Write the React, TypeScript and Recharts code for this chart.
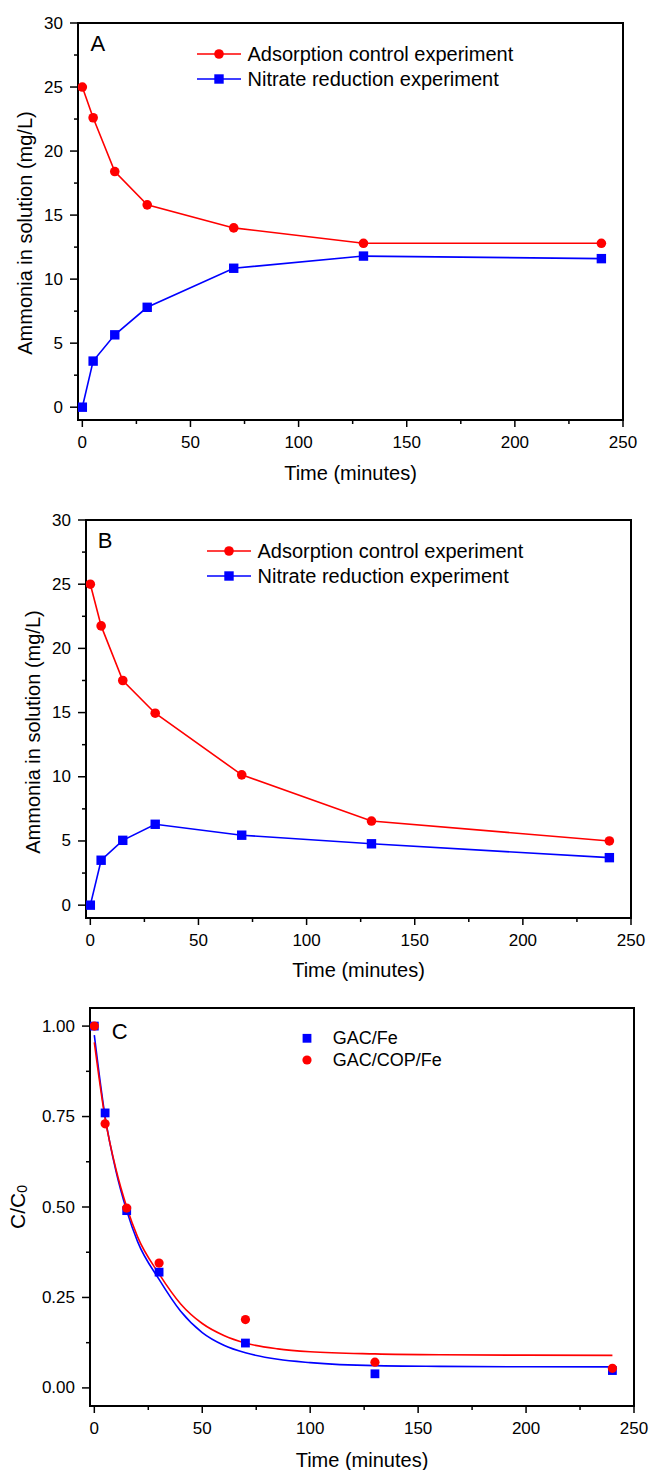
import React from 'react';
import { ComposedChart, Line, Scatter, XAxis, YAxis, ReferenceArea, Legend } from 'recharts';

// ---- data ----
const times = [0, 5, 15, 30, 70, 130, 240];

const adsorptionA = [25, 22.6, 18.4, 15.8, 14.0, 12.8, 12.8];
const nitrateA = [0, 3.6, 5.65, 7.8, 10.85, 11.8, 11.6];

const adsorptionB = [25, 21.75, 17.5, 14.95, 10.15, 6.55, 5.0];
const nitrateB = [0, 3.5, 5.05, 6.3, 5.45, 4.78, 3.7];

const gacFe = [1.0, 0.76, 0.49, 0.32, 0.124, 0.039, 0.048];
const gacCopFe = [1.0, 0.73, 0.497, 0.345, 0.189, 0.071, 0.054];

const fitTimes = [0, 5, 10, 15, 20, 30, 40, 50, 60, 70, 85, 100, 130, 160, 200, 240];
const gacFeFit = [0.975, 0.75, 0.6, 0.49, 0.405, 0.3, 0.212, 0.153, 0.118, 0.097, 0.079, 0.07, 0.0615, 0.0595, 0.0585, 0.058];
const gacCopFeFit = [0.955, 0.745, 0.605, 0.5, 0.418, 0.315, 0.232, 0.178, 0.145, 0.124, 0.108, 0.1, 0.094, 0.0915, 0.0905, 0.09];

const xTicks = [0, 25, 50, 75, 100, 125, 150, 175, 200, 225, 250];
const yTicksAB = [0, 2.5, 5, 7.5, 10, 12.5, 15, 17.5, 20, 22.5, 25, 27.5, 30];
const yTicksC = [0, 0.125, 0.25, 0.375, 0.5, 0.625, 0.75, 0.875, 1.0];

const seriesNamesAB = ['Adsorption control experiment', 'Nitrate reduction experiment'];
const seriesNamesC = ['GAC/Fe', 'GAC/COP/Fe'];

const RED = '#ff0000';
const BLUE = '#0000ff';
const FONT = '"Liberation Sans", Arial, Helvetica, sans-serif';

const dataA = times.map((t, i) => ({ t, adsorption: adsorptionA[i], nitrate: nitrateA[i] }));
const dataB = times.map((t, i) => ({ t, adsorption: adsorptionB[i], nitrate: nitrateB[i] }));
const scatterFe = times.map((t, i) => ({ t, gacFe: gacFe[i] }));
const scatterCop = times.map((t, i) => ({ t, gacCopFe: gacCopFe[i] }));
const fitFe = fitTimes.map((t, i) => ({ t, gacFeFit: gacFeFit[i] }));
const fitCop = fitTimes.map((t, i) => ({ t, gacCopFeFit: gacCopFeFit[i] }));

// ---- ticks ----
const XTick = (props: any) => {
  const { x, y, payload } = props;
  const v = payload.value;
  const major = v % 50 === 0;
  return (
    <g>
      <line x1={x} x2={x} y1={y} y2={y + (major ? 7 : 4)} stroke="#000" strokeWidth={1.5} />
      {major && (
        <text x={x} y={y + 22.5} textAnchor="middle" dominantBaseline="central" fontSize={17} fontFamily={FONT} fill="#000">
          {v}
        </text>
      )}
    </g>
  );
};

const makeYTick = (isMajor: (v: number) => boolean, fmt: (v: number) => string) => (props: any) => {
  const { x, y, payload } = props;
  const v = payload.value;
  const major = isMajor(v);
  return (
    <g>
      <line x1={x} x2={x - (major ? 8 : 4)} y1={y} y2={y} stroke="#000" strokeWidth={1.5} />
      {major && (
        <text x={x - 15} y={y} textAnchor="end" dominantBaseline="central" fontSize={17} fontFamily={FONT} fill="#000">
          {fmt(v)}
        </text>
      )}
    </g>
  );
};

const YTickAB = makeYTick((v) => v % 5 === 0, (v) => String(v));
const YTickC = makeYTick((v) => Math.abs(v * 4 - Math.round(v * 4)) < 1e-6, (v) => v.toFixed(2));

// ---- markers ----
const redDot = (p: any) => <circle key={`r${p.index}`} cx={p.cx} cy={p.cy} r={4.8} fill={RED} />;
const blueSq = (p: any) => (
  <rect key={`b${p.index}`} x={p.cx - 4.7} y={p.cy - 4.7} width={9.4} height={9.4} fill={BLUE} />
);
const redDotC = (p: any) => <circle cx={p.cx} cy={p.cy} r={4.6} fill={RED} />;
const blueSqC = (p: any) => <rect x={p.cx - 4.4} y={p.cy - 4.4} width={8.8} height={8.8} fill={BLUE} />;

// ---- legends ----
const LegendAB = () => (
  <svg width={440} height={60} style={{ overflow: 'visible' }}>
    <line x1={7} x2={51} y1={16} y2={16} stroke={RED} strokeWidth={1.6} />
    <circle cx={29} cy={16} r={4.8} fill={RED} />
    <text x={57.5} y={16} dominantBaseline="central" fontSize={20} fontFamily={FONT} fill="#000">
      {seriesNamesAB[0]}
    </text>
    <line x1={7} x2={51} y1={41} y2={41} stroke={BLUE} strokeWidth={1.6} />
    <rect x={29 - 4.7} y={41 - 4.7} width={9.4} height={9.4} fill={BLUE} />
    <text x={57.5} y={41} dominantBaseline="central" fontSize={20} fontFamily={FONT} fill="#000">
      {seriesNamesAB[1]}
    </text>
  </svg>
);

const LegendC = () => (
  <svg width={200} height={60} style={{ overflow: 'visible' }}>
    <rect x={12 - 4.4} y={13.3 - 4.4} width={8.8} height={8.8} fill={BLUE} />
    <text x={37.8} y={13.3} dominantBaseline="central" fontSize={18} fontFamily={FONT} fill="#000">
      {seriesNamesC[0]}
    </text>
    <circle cx={12} cy={35} r={4.6} fill={RED} />
    <text x={37.8} y={35} dominantBaseline="central" fontSize={18} fontFamily={FONT} fill="#000">
      {seriesNamesC[1]}
    </text>
  </svg>
);

const commonX = {
  type: 'number' as const,
  dataKey: 't',
  domain: [-2, 250] as [number, number],
  ticks: xTicks,
  interval: 0 as const,
  tickSize: 0,
  tickMargin: 0,
  tickLine: false,
  axisLine: false,
  allowDataOverflow: true,
  tick: XTick,
};

const PanelAB = ({ data, yW, mTop, mRight, xH, legendPos }: any) => (
  <ComposedChart width={649} height={490} data={data} margin={{ top: mTop, right: mRight, left: 0, bottom: 0 }}>
    <XAxis {...commonX} height={xH} />
    <YAxis
      type="number"
      domain={[-1, 30]}
      ticks={yTicksAB}
      interval={0}
      tickSize={0}
      tickMargin={0}
      tickLine={false}
      axisLine={false}
      allowDataOverflow
      width={yW}
      tick={YTickAB}
    />
    <ReferenceArea x1={-2} x2={250} y1={-1} y2={30} fill="none" stroke="#000" strokeWidth={2} ifOverflow="visible" />
    <Line
      type="linear"
      dataKey="adsorption"
      name={seriesNamesAB[0]}
      stroke={RED}
      strokeWidth={1.6}
      dot={redDot}
      activeDot={false}
      isAnimationActive={false}
    />
    <Line
      type="linear"
      dataKey="nitrate"
      name={seriesNamesAB[1]}
      stroke={BLUE}
      strokeWidth={1.6}
      dot={blueSq}
      activeDot={false}
      isAnimationActive={false}
    />
    <Legend
      layout="vertical"
      align="center"
      verticalAlign="middle"
      wrapperStyle={{ left: legendPos[0], top: legendPos[1], width: 440, height: 60 }}
      content={() => <LegendAB />}
    />
  </ComposedChart>
);

export default function App() {
  return (
    <div style={{ position: 'absolute', left: 0, top: 0, width: 649, height: 1470, background: '#fff' }}>
      <div style={{ position: 'absolute', left: 0, top: 0 }}>
        <PanelAB data={dataA} yW={78} mTop={23} mRight={26} xH={70} legendPos={[190, 38]} />
      </div>
      <div style={{ position: 'absolute', left: 0, top: 490 }}>
        <PanelAB data={dataB} yW={86} mTop={30} mRight={18} xH={62} legendPos={[200, 45]} />
      </div>
      <div style={{ position: 'absolute', left: 0, top: 980 }}>
        <ComposedChart width={649} height={490} margin={{ top: 28, right: 15, left: 0, bottom: 0 }}>
          <XAxis {...commonX} height={64} />
          <YAxis
            type="number"
            domain={[-0.05, 1.05]}
            ticks={yTicksC}
            interval={0}
            tickSize={0}
            tickMargin={0}
            tickLine={false}
            axisLine={false}
            allowDataOverflow
            width={90}
            tick={YTickC}
          />
          <ReferenceArea x1={-2} x2={250} y1={-0.05} y2={1.05} fill="none" stroke="#000" strokeWidth={2} ifOverflow="visible" />
          <Scatter data={scatterFe} dataKey="gacFe" name={seriesNamesC[0]} fill={BLUE} shape={blueSqC} isAnimationActive={false} />
          <Scatter data={scatterCop} dataKey="gacCopFe" name={seriesNamesC[1]} fill={RED} shape={redDotC} isAnimationActive={false} />
          <Line
            data={fitFe}
            type="monotone"
            dataKey="gacFeFit"
            stroke={BLUE}
            strokeWidth={1.6}
            dot={false}
            activeDot={false}
            legendType="none"
            isAnimationActive={false}
          />
          <Line
            data={fitCop}
            type="monotone"
            dataKey="gacCopFeFit"
            stroke={RED}
            strokeWidth={1.6}
            dot={false}
            activeDot={false}
            legendType="none"
            isAnimationActive={false}
          />
          <Legend
            layout="vertical"
            align="center"
            verticalAlign="middle"
            wrapperStyle={{ left: 295, top: 45, width: 200, height: 60 }}
            content={() => <LegendC />}
          />
        </ComposedChart>
      </div>
      <svg
        width={649}
        height={1470}
        style={{ position: 'absolute', left: 0, top: 0, pointerEvents: 'none' }}
        fontFamily={FONT}
      >
        {/* Panel A */}
        <text x={97.8} y={43} textAnchor="middle" dominantBaseline="central" fontSize={22} fill="#000">A</text>
        <text x={25} y={233} transform="rotate(-90 25 233)" textAnchor="middle" dominantBaseline="central" fontSize={20} fill="#000">
          Ammonia in solution (mg/L)
        </text>
        <text x={350.5} y={473} textAnchor="middle" dominantBaseline="central" fontSize={20} fill="#000">Time (minutes)</text>
        {/* Panel B */}
        <text x={105} y={540} textAnchor="middle" dominantBaseline="central" fontSize={22} fill="#000">B</text>
        <text x={33} y={732} transform="rotate(-90 33 732)" textAnchor="middle" dominantBaseline="central" fontSize={20} fill="#000">
          Ammonia in solution (mg/L)
        </text>
        <text x={358.5} y={970} textAnchor="middle" dominantBaseline="central" fontSize={20} fill="#000">Time (minutes)</text>
        {/* Panel C */}
        <text x={119.8} y={1031.7} textAnchor="middle" dominantBaseline="central" fontSize={22} fill="#000">C</text>
        <text x={17} y={1207} transform="rotate(-90 17 1207)" textAnchor="middle" dominantBaseline="central" fontSize={21} fill="#000">
          C/C<tspan dy={5} fontSize={14}>0</tspan>
        </text>
        <text x={362} y={1460} textAnchor="middle" dominantBaseline="central" fontSize={20} fill="#000">Time (minutes)</text>
      </svg>
    </div>
  );
}
